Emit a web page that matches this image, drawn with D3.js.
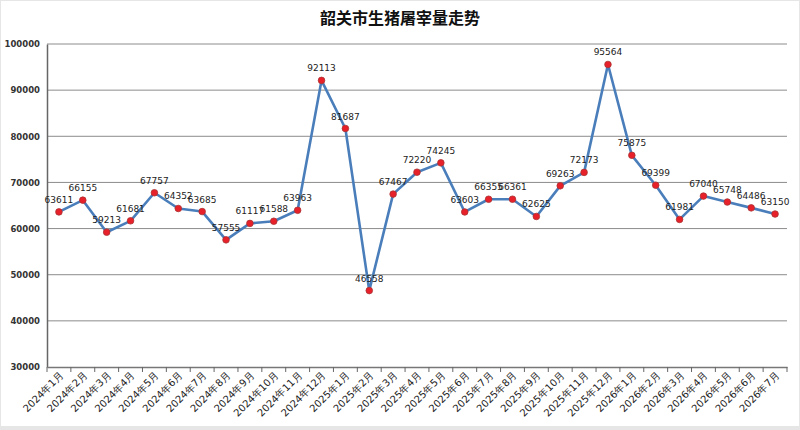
<!DOCTYPE html>
<html><head><meta charset="utf-8">
<script src="https://cdn.jsdelivr.net/npm/d3@7/dist/d3.min.js"></script>
<style>body{margin:0;background:#fff}svg{display:block}</style>
</head><body>
<svg id="c" width="800" height="430"></svg>
<script>
const categories = ["2024年1月","2024年2月","2024年3月","2024年4月","2024年5月","2024年6月","2024年7月","2024年8月","2024年9月","2024年10月","2024年11月","2024年12月",
"2025年1月","2025年2月","2025年3月","2025年4月","2025年5月","2025年6月","2025年7月","2025年8月","2025年9月","2025年10月","2025年11月","2025年12月",
"2026年1月","2026年2月","2026年3月","2026年4月","2026年5月","2026年6月","2026年7月"];
const values = [63611,66155,59213,61681,67757,64352,63685,57555,61117,61588,63963,92113,
81687,46558,67467,72220,74245,63603,66355,66361,62625,69263,72173,95564,
75875,69399,61981,67040,65748,64486,63150];
const yTicks = [30000,40000,50000,60000,70000,80000,90000,100000];
const title = "韶关市生猪屠宰量走势";

const svg = d3.select("#c");
svg.append("rect").attr("x",0).attr("y",0).attr("width",800).attr("height",430).attr("fill","#e6e6e6");
svg.append("rect").attr("x",1).attr("y",1).attr("width",798).attr("height",425).attr("fill","#fff");

const L=47, R=787, T=44, B=367;
const x = d3.scaleBand().domain(categories).range([L,R]);
const y = d3.scaleLinear().domain([30000,100000]).range([B,T]);

svg.append("text").attr("x",400).attr("y",24).attr("text-anchor","middle")
  .attr("font-family","'Noto Sans CJK SC'").attr("font-weight","bold").attr("font-size",16).attr("fill","#111").text(title);

// grid
svg.append("g").selectAll("line").data(yTicks.slice(1)).join("line")
  .attr("x1",L).attr("x2",R).attr("y1",d=>y(d)).attr("y2",d=>y(d))
  .attr("stroke","#8c8c8c").attr("stroke-width",1);

// y axis
const ya = svg.append("g").attr("transform",`translate(${L},0)`)
  .call(d3.axisLeft(y).tickValues(yTicks).tickSize(0).tickPadding(7).tickFormat(d3.format("d")));
ya.select(".domain").attr("stroke","#666").attr("stroke-width",1.5);
ya.selectAll("text").attr("font-family","'DejaVu Sans'").attr("font-weight","bold").attr("font-size",8.5).attr("fill","#333");

// x axis
const xa = svg.append("g").attr("transform",`translate(0,${B})`)
  .call(d3.axisBottom(x).tickSize(0).tickFormat(""));
xa.select(".domain").attr("stroke","#777").attr("stroke-width",1.5);
const edges = categories.map(c=>x(c)).concat([R]);
svg.append("g").selectAll("line").data(edges).join("line")
  .attr("x1",d=>d).attr("x2",d=>d).attr("y1",B).attr("y2",B+5).attr("stroke","#666");
svg.append("g").selectAll("text").data(categories).join("text")
  .attr("transform",d=>`translate(${x(d)+x.bandwidth()/2+5},${B+9}) rotate(-45)`)
  .attr("text-anchor","end").attr("font-family","'DejaVu Sans'").attr("font-size",10).attr("fill","#222")
  .text(d=>d);

const cx = d=>x(d.c)+x.bandwidth()/2;
const data = categories.map((c,i)=>({c, v:values[i]}));
svg.append("path").datum(data)
  .attr("d", d3.line().x(cx).y(d=>y(d.v)))
  .attr("fill","none").attr("stroke","#4a7ebb").attr("stroke-width",2.6).attr("stroke-linejoin","round");
svg.append("g").selectAll("circle").data(data).join("circle")
  .attr("cx",cx).attr("cy",d=>y(d.v)).attr("r",3.3)
  .attr("fill","#e8202a").attr("stroke","#a83434").attr("stroke-width",0.8);
svg.append("g").selectAll("text").data(data).join("text")
  .attr("x",cx).attr("y",d=>y(d.v)-9).attr("text-anchor","middle")
  .attr("font-family","'DejaVu Sans'").attr("font-size",9).attr("fill","#222")
  .text(d=>d.v);
</script>
</body></html>
